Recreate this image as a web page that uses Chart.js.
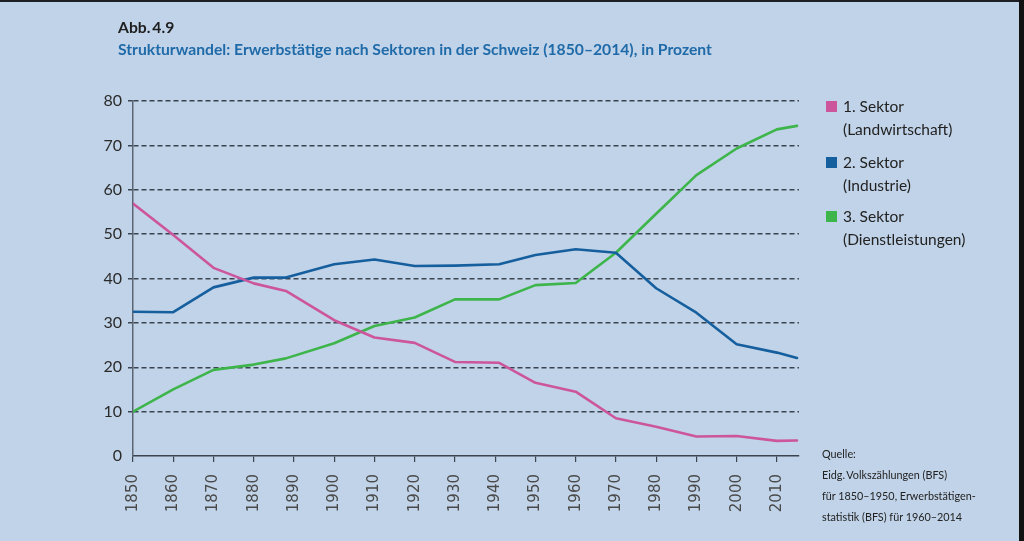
<!DOCTYPE html>
<html>
<head>
<meta charset="utf-8">
<script src="https://cdn.jsdelivr.net/npm/chart.js@4/dist/chart.umd.min.js"></script>
<style>
    html, body { margin: 0; padding: 0; }
    body {
        width: 1024px; height: 541px; overflow: hidden; position: relative;
        background: #c1d3e8; font-family: Lato, "Open Sans", sans-serif; color: #222;
    }
    #frame-top { position: absolute; left: 0; top: 0; width: 1024px; height: 2px; background: #1d1f24; }
    #frame-right { position: absolute; right: 0; top: 0; width: 5px; height: 541px; background: #111; }
    #chart-box { position: absolute; left: 0; top: 0; width: 1024px; height: 541px; }
    .title { position: absolute; left: 118px; font-weight: bold; font-size: 15.7px; white-space: nowrap; }
    #abb { top: 18px; color: #1e1e1e; }
    #subtitle { top: 40px; color: #1f6aa8; }
    .legend-item { position: absolute; left: 826px; font-size: 15.5px; line-height: 23px; color: #222; }
    .legend-item span.box { position: absolute; left: 0; top: 6px; width: 11px; height: 11px; }
    .legend-item div { margin-left: 17px; }
    #source { position: absolute; left: 822px; top: 443px; font-size: 10.8px; line-height: 21px; color: #222; }
</style>
</head>
<body>
<div id="chart-box"><canvas id="sectorChart" width="1024" height="541"></canvas></div>
<div id="frame-top"></div>
<div id="frame-right"></div>
<div class="title" id="abb">Abb.&#8201;4.9</div>
<div class="title" id="subtitle">Strukturwandel: Erwerbstätige nach Sektoren in der Schweiz (1850–2014), in Prozent</div>
<div id="legend"></div>
<div id="source">Quelle:<br>Eidg.&#8201;Volkszählungen (BFS)<br>für 1850–1950, Erwerbstätigen-<br>statistik (BFS) für 1960–2014</div>

<script>
// values
const years = [1850, 1860, 1870, 1880, 1888, 1900, 1910, 1920, 1930, 1941, 1950, 1960, 1970, 1980, 1990, 2000, 2010, 2015];
const sektor1 = [56.9, 49.8, 42.4, 38.9, 37.2, 30.6, 26.7, 25.5, 21.2, 21.0, 16.5, 14.5, 8.5, 6.6, 4.4, 4.5, 3.4, 3.5];
const sektor2 = [32.5, 32.4, 38.0, 40.2, 40.2, 43.2, 44.3, 42.8, 42.9, 43.2, 45.3, 46.6, 45.8, 37.8, 32.3, 25.2, 23.3, 22.1];
const sektor3 = [10.0, 15.0, 19.4, 20.6, 22.0, 25.4, 29.3, 31.2, 35.3, 35.3, 38.5, 39.0, 45.8, 54.6, 63.3, 69.3, 73.6, 74.4];
const yearTicks = [1850, 1860, 1870, 1880, 1890, 1900, 1910, 1920, 1930, 1940, 1950, 1960, 1970, 1980, 1990, 2000, 2010];
const legendLines = [["1. Sektor", "(Landwirtschaft)"], ["2. Sektor", "(Industrie)"], ["3. Sektor", "(Dienstleistungen)"]];
const colors = ["#cc559c", "#165f9e", "#3db54b"];

const gridColor = "#3b4552";

function toPoints(values) {
    return values.map((v, i) => ({ x: years[i], y: v }));
}

// legend on the right, built by hand
const legendTops = [95, 151, 205];
const legendBox = document.getElementById("legend");
legendLines.forEach((lines, i) => {
    const item = document.createElement("div");
    item.className = "legend-item";
    item.style.top = legendTops[i] + "px";
    item.innerHTML = '<span class="box" style="background:' + colors[i] + '"></span><div>' + lines.join("<br>") + "</div>";
    legendBox.appendChild(item);
});

const ctx = document.getElementById("sectorChart").getContext("2d");
new Chart(ctx, {
    type: "line",
    data: {
        datasets: [
            { label: legendLines[0].join(" "), data: toPoints(sektor1), borderColor: colors[0] },
            { label: legendLines[1].join(" "), data: toPoints(sektor2), borderColor: colors[1] },
            { label: legendLines[2].join(" "), data: toPoints(sektor3), borderColor: colors[2] }
        ]
    },
    options: {
        responsive: false,
        animation: false,
        layout: { padding: { top: 101, right: 225, left: 0, bottom: 0 } },
        elements: {
            line: { borderWidth: 2.6, tension: 0, borderJoinStyle: "round", borderCapStyle: "round" },
            point: { radius: 0 }
        },
        plugins: { legend: { display: false }, tooltip: { enabled: false } },
        scales: {
            x: {
                type: "linear",
                min: 1850,
                max: 2015.5,
                afterFit: s => { s.height = 85; },
                afterBuildTicks: s => { s.ticks = yearTicks.map(v => ({ value: v })); },
                grid: { drawOnChartArea: false, drawTicks: true, tickLength: 6, color: gridColor, lineWidth: 1.2 },
                border: { display: true, color: "#3b4350", width: 1.5 },
                ticks: {
                    minRotation: 90, maxRotation: 90, padding: 12, autoSkip: false,
                    color: "#4a4a4a", font: { family: "'DejaVu Sans', sans-serif", size: 15 },
                    callback: v => String(v)
                }
            },
            y: {
                min: 0,
                max: 80,
                afterFit: s => { s.width = 133; },
                grid: {
                    color: c => (c.tick && c.tick.value === 0 ? "rgba(0,0,0,0)" : gridColor),
                    lineWidth: 1.5,
                    drawTicks: true,
                    tickLength: 5,
                    tickColor: c => (c.tick && c.tick.value === 0 ? "rgba(0,0,0,0)" : gridColor),
                    tickBorderDash: [5, 3]
                },
                // in v4 border.dash sets the dash of the grid lines
                border: { display: true, color: "#5b6572", width: 1.5, dash: [5, 3] },
                ticks: {
                    stepSize: 10, padding: 6, color: "#2a2a2a",
                    font: { family: "Lato, 'Open Sans', sans-serif", size: 16 }
                }
            }
        }
    }
});
</script>
</body>
</html>
